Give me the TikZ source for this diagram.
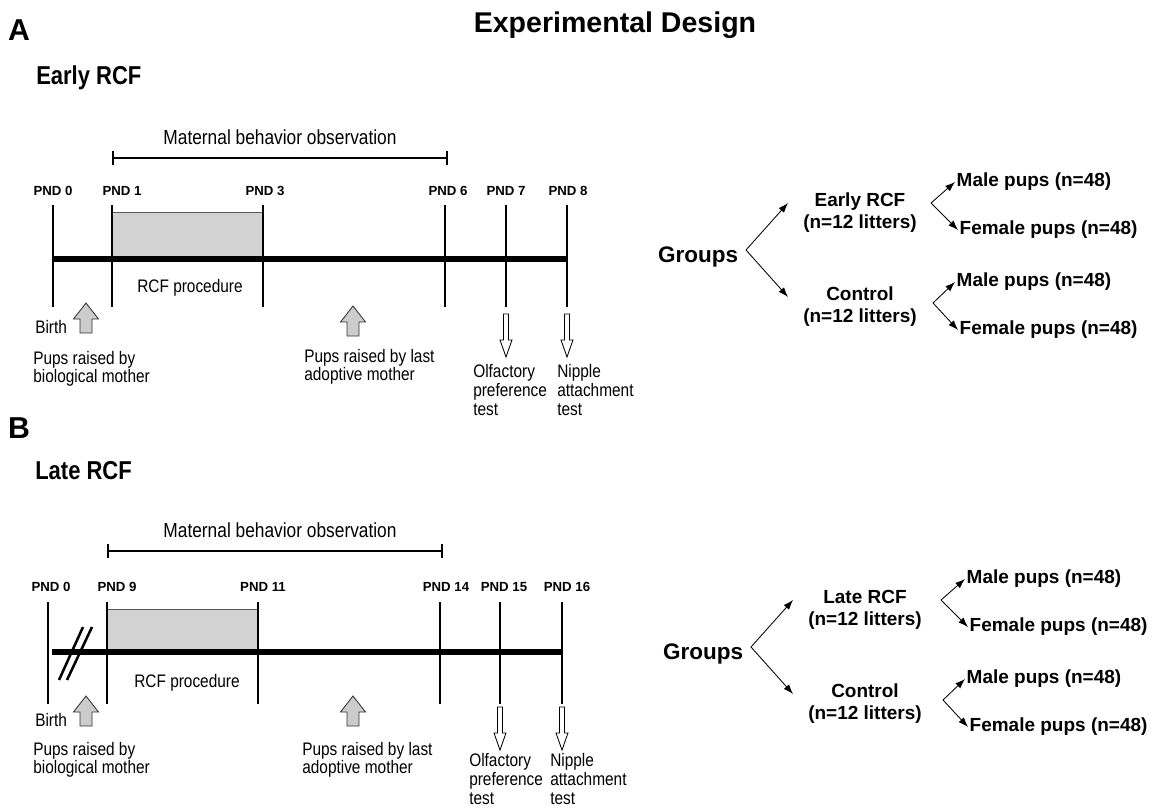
\documentclass[tikz,border=0pt]{standalone}
\usepackage{fontspec}
\setmainfont{Liberation Sans}
\newfontfamily\narrowfont[FakeStretch=0.85]{Liberation Sans}
\usetikzlibrary{arrows.meta,positioning,calc}

\tikzset{
    panel/.style={font=\fontsize{21.5}{24}\selectfont\bfseries, inner sep=0pt},
    titletext/.style={font=\fontsize{20.3}{24}\selectfont\bfseries, inner sep=0pt},
    headtext/.style={font=\narrowfont\fontsize{18.4}{21}\selectfont\bfseries, inner sep=0pt},
    obstext/.style={font=\narrowfont\fontsize{14.5}{17}\selectfont, inner sep=0pt},
    pndlabel/.style={font=\fontsize{9.4}{11}\selectfont\bfseries, inner sep=0pt},
    smalltext/.style={font=\narrowfont\fontsize{12.9}{13.2}\selectfont, align=left, inner sep=0pt},
    grouptext/.style={font=\fontsize{13.5}{15.6}\selectfont\bfseries, align=center, inner sep=1pt},
    groupshead/.style={font=\fontsize{16}{19}\selectfont\bfseries, inner sep=1pt},
    tline/.style={line width=3.8pt},
    pndline/.style={line width=1.8pt},
    bracket/.style={line width=1.5pt},
    rcfbox/.style={fill=gray!35, draw=gray!70!black, line width=0.6pt},
    grayarrow/.style={fill=gray!40, draw=gray!40!black, line width=0.6pt},
    hollowarrow/.style={fill=white, draw=black, line width=0.6pt},
    branch/.style={-{Latex[length=7pt,width=5pt]}, line width=0.6pt},
}

\begin{document}
\begin{tikzpicture}[x=0.025cm, y=-0.025cm]
    \useasboundingbox (0,0) rectangle (1160,809);

    \node[titletext] (title) at (615,25) {Experimental Design};

    % Panel A: time line
    \begin{scope}
        \node[panel] (labA) at (19,30) {A};
        \node[headtext, anchor=west] (headA) at (36,78) {Early RCF};

        % Observation bracket
        \node[obstext] (obsA) at (280,137) {Maternal behavior observation};
        \coordinate (OA1) at (113,158);
        \coordinate (OA2) at (447,158);
        \draw[bracket] (OA1) -- (OA2);
        \foreach \o in {OA1, OA2} {
            \draw[bracket] (\o) ++(0,-7) -- ++(0,14);
        }

        % RCF box
        \draw[rcfbox] (112,212) rectangle (263,259);
        \node[smalltext] (rcfA) at (190,288) {RCF procedure};

        % Days
        \foreach \x/\d/\dx in {53/0/0, 112/1/10, 263/3/2, 445/6/3, 506/7/0, 567/8/1} {
            \coordinate (A\d) at (\x,259);
            \draw[pndline] (\x,205) -- (\x,307);
            \node[pndlabel] (pndA\d) at (\x+\dx,191) {PND \d};
        }
        \draw[tline] (A0) -- (A8);

        % Below the line
        \node[smalltext, anchor=west] (birthA) at (35,327) {Birth};
        \foreach \x/\y in {86/303, 353/306} {
            \draw[grayarrow] (\x,\y) -- ++(12.5,16) -- ++(-6.5,0) -- ++(0,14) -- ++(-12,0)
                -- ++(0,-14) -- ++(-6.5,0) -- cycle;
        }
        \node[smalltext, anchor=west] (bioA) at (33,369) {Pups raised by\\biological mother};
        \node[smalltext, anchor=west] (adoA) at (304,367) {Pups raised by last\\adoptive mother};

        % Tests
        \foreach \x in {506, 567} {
            \draw[hollowarrow] (\x,314) ++(-2.5,0) -- ++(0,26) -- ++(-3.5,0) -- ++(6,17)
                -- ++(6,-17) -- ++(-3.5,0) -- ++(0,-26) -- cycle;
        }
        \node[smalltext, anchor=west] (olfA) at (473,390) {Olfactory\\preference\\test};
        \node[smalltext, anchor=west] (nipA) at (557,390) {Nipple\\attachment\\test};
    \end{scope}

    % Panel A: groups
    \begin{scope}
        \node[groupshead] (grpA) at (698,257) {Groups};
        \node[grouptext] (earlyA) at (860,213) {Early RCF\\(n=12 litters)};
        \node[grouptext] (ctrlA) at (860,307) {Control\\(n=12 litters)};
        \node[grouptext, anchor=west] (maleA1) at (955,182) {Male pups (n=48)};
        \node[grouptext, anchor=west] (femA1) at (958,230) {Female pups (n=48)};
        \node[grouptext, anchor=west] (maleA2) at (955,282) {Male pups (n=48)};
        \node[grouptext, anchor=west] (femA2) at (958,330) {Female pups (n=48)};

        \coordinate (gA) at (746,250);
        \coordinate (gA1) at (788,203);
        \coordinate (gA2) at (788,297);
        \coordinate (bA1) at (931,203);
        \coordinate (bA2) at (933,303);
        \draw[branch] (gA) -- (gA1);
        \draw[branch] (gA) -- (gA2);
        \draw[branch] (bA1) -- (maleA1.west);
        \draw[branch] (bA1) -- (femA1.west);
        \draw[branch] (bA2) -- (maleA2.west);
        \draw[branch] (bA2) -- (femA2.west);
    \end{scope}

    % Panel B: time line
    \begin{scope}[shift={(-5,393)}]
        \node[panel] (labB) at (24,35) {B};
        \node[headtext, anchor=west] (headB) at (40,78) {Late RCF};

        % Observation bracket
        \node[obstext] (obsB) at (285,137) {Maternal behavior observation};
        \coordinate (OB1) at (113,158);
        \coordinate (OB2) at (447,158);
        \draw[bracket] (OB1) -- (OB2);
        \foreach \o in {OB1, OB2} {
            \draw[bracket] (\o) ++(0,-7) -- ++(0,14);
        }

        % RCF box
        \draw[rcfbox] (112,216) rectangle (263,259);
        \node[smalltext] (rcfB) at (192,290) {RCF procedure};

        % Days
        \foreach \x/\d/\dx in {53/0/3, 112/9/10, 263/11/5, 445/14/6, 505/15/4, 567/16/5} {
            \coordinate (B\d) at (\x,259);
            \draw[pndline] (\x,209) -- (\x,311);
            \node[pndlabel] (pndB\d) at (\x+\dx,194) {PND \d};
        }
        \coordinate (B0s) at (57,259);
        \draw[tline] (B0s) -- (B16);

        % Break marks
        \draw[pndline] (64,287) -- (88,234);
        \draw[pndline] (72,287) -- (97,234);

        % Below the line
        \node[smalltext, anchor=west] (birthB) at (40,327) {Birth};
        \foreach \x/\y in {91/303, 358/303} {
            \draw[grayarrow] (\x,\y) -- ++(12.5,16) -- ++(-6.5,0) -- ++(0,14) -- ++(-12,0)
                -- ++(0,-14) -- ++(-6.5,0) -- cycle;
        }
        \node[smalltext, anchor=west] (bioB) at (38,367) {Pups raised by\\biological mother};
        \node[smalltext, anchor=west] (adoB) at (307,367) {Pups raised by last\\adoptive mother};

        % Tests
        \foreach \x in {505, 567} {
            \draw[hollowarrow] (\x,314) ++(-2.5,0) -- ++(0,26) -- ++(-3.5,0) -- ++(6,17)
                -- ++(6,-17) -- ++(-3.5,0) -- ++(0,-26) -- cycle;
        }
        \node[smalltext, anchor=west] (olfB) at (474,386) {Olfactory\\preference\\test};
        \node[smalltext, anchor=west] (nipB) at (555,386) {Nipple\\attachment\\test};
    \end{scope}

    % Panel B: groups
    \begin{scope}[shift={(5,397)}]
        \node[groupshead] (grpB) at (698,257) {Groups};
        \node[grouptext] (lateB) at (860,213) {Late RCF\\(n=12 litters)};
        \node[grouptext] (ctrlB) at (860,307) {Control\\(n=12 litters)};
        \node[grouptext, anchor=west] (maleB1) at (960,182) {Male pups (n=48)};
        \node[grouptext, anchor=west] (femB1) at (963,230) {Female pups (n=48)};
        \node[grouptext, anchor=west] (maleB2) at (960,282) {Male pups (n=48)};
        \node[grouptext, anchor=west] (femB2) at (963,330) {Female pups (n=48)};

        \coordinate (gB) at (746,250);
        \coordinate (gB1) at (788,203);
        \coordinate (gB2) at (788,297);
        \coordinate (bB1) at (936,203);
        \coordinate (bB2) at (938,303);
        \draw[branch] (gB) -- (gB1);
        \draw[branch] (gB) -- (gB2);
        \draw[branch] (bB1) -- (maleB1.west);
        \draw[branch] (bB1) -- (femB1.west);
        \draw[branch] (bB2) -- (maleB2.west);
        \draw[branch] (bB2) -- (femB2.west);
    \end{scope}
\end{tikzpicture}
\end{document}
